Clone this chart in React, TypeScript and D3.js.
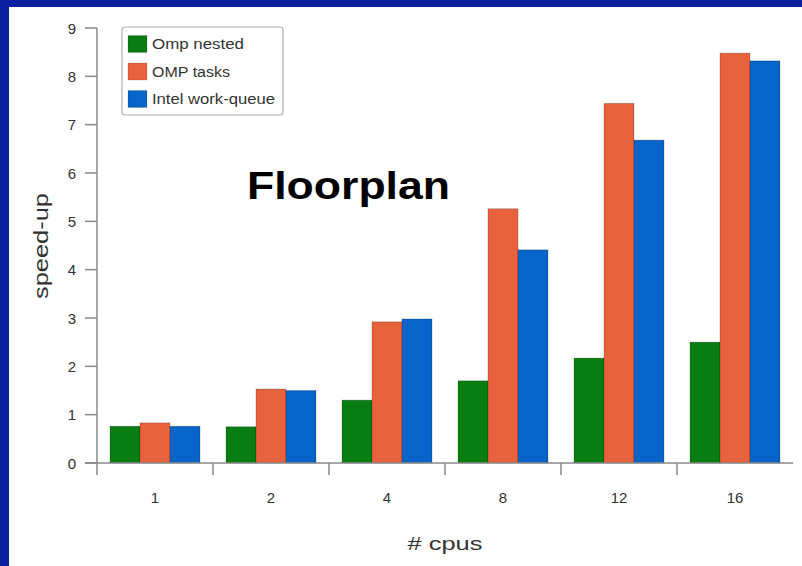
import React from "react";
import * as d3 from "d3";

const cpus = ["1", "2", "4", "8", "12", "16"];
const ompNested = [0.76, 0.75, 1.3, 1.7, 2.17, 2.5];
const ompTasks = [0.83, 1.53, 2.92, 5.26, 7.44, 8.48];
const intelWorkQueue = [0.76, 1.5, 2.98, 4.41, 6.68, 8.32];
const seriesNames = ["Omp nested", "OMP tasks", "Intel work-queue"];
const seriesColors = ["#0a7d12", "#e8623e", "#0764c8"];
const yTicks = [0, 1, 2, 3, 4, 5, 6, 7, 8, 9];

const W = 802;
const H = 566;

export default function App() {
  const series = [ompNested, ompTasks, intelWorkQueue];
  const y = d3.scaleLinear().domain([0, 9]).range([463, 28]);
  const x = d3.scaleBand<string>().domain(cpus).range([97, 793]).padding(0);
  const bw = x.bandwidth();
  const sub = d3
    .scaleBand<string>()
    .domain(seriesNames)
    .range([13, bw - 13])
    .padding(0);
  const axisColor = "#8a8a8a";
  const font = "'Liberation Sans', Arial, Helvetica, sans-serif";
  const legendTextLen = [92, 78, 123];

  return (
    <svg
      width={W}
      height={H}
      style={{ position: "absolute", left: 0, top: 0 }}
      fontFamily={font}
    >
      <rect x={0} y={0} width={W} height={H} fill="#0a209e" />
      <rect x={9} y={7} width={W - 9} height={H - 7} fill="#ffffff" />

      {/* bars */}
      {cpus.map((c, i) => (
        <g key={c} transform={`translate(${x(c)},0)`}>
          {series.map((s, j) => (
            <rect
              key={j}
              x={sub(seriesNames[j])}
              y={y(s[i])}
              width={sub.bandwidth()}
              height={y(0) - y(s[i])}
              fill={seriesColors[j]}
              stroke="rgba(0,0,0,0.25)"
              strokeWidth={0.8}
            />
          ))}
        </g>
      ))}

      {/* y axis */}
      <line x1={97} x2={97} y1={y(9)} y2={475} stroke={axisColor} strokeWidth={1.5} />
      {yTicks.map((t) => (
        <g key={t}>
          <line x1={85} x2={97} y1={y(t)} y2={y(t)} stroke={axisColor} strokeWidth={1.5} />
          <text
            x={76}
            y={y(t)}
            textAnchor="end"
            dominantBaseline="central"
            fontSize={15}
            fill="#333"
          >
            {t}
          </text>
        </g>
      ))}

      {/* x axis */}
      <line x1={85} x2={793} y1={y(0)} y2={y(0)} stroke={axisColor} strokeWidth={1.5} />
      {cpus.slice(1).map((c) => (
        <line
          key={c}
          x1={x(c)}
          x2={x(c)}
          y1={y(0)}
          y2={475}
          stroke={axisColor}
          strokeWidth={1.5}
        />
      ))}
      {cpus.map((c) => (
        <text
          key={c}
          x={(x(c) as number) + bw / 2}
          y={497}
          textAnchor="middle"
          dominantBaseline="central"
          fontSize={15}
          fill="#333"
        >
          {c}
        </text>
      ))}

      {/* axis titles */}
      <text
        x={445}
        y={550}
        textAnchor="middle"
        fontSize={19}
        fill="#333"
        textLength={75}
        lengthAdjust="spacingAndGlyphs"
      >
        # cpus
      </text>
      <text
        transform="translate(48,246) rotate(-90)"
        textAnchor="middle"
        fontSize={20}
        fill="#333"
        textLength={106}
        lengthAdjust="spacingAndGlyphs"
      >
        speed-up
      </text>

      {/* title */}
      <text
        x={247}
        y={199}
        fontSize={38}
        fontWeight="bold"
        fill="#000"
        textLength={203}
        lengthAdjust="spacingAndGlyphs"
      >
        Floorplan
      </text>

      {/* legend */}
      <rect
        x={122}
        y={27}
        width={161}
        height={88}
        rx={3}
        fill="#fff"
        stroke="#b0b0b0"
        strokeWidth={1.2}
      />
      {seriesNames.map((n, j) => (
        <g key={n} transform={`translate(0,${44 + j * 27.5})`}>
          <rect x={128} y={-8.5} width={19} height={17} fill={seriesColors[j]} stroke="rgba(0,0,0,0.2)" strokeWidth={0.6} />
          <text
            x={152}
            y={0}
            dominantBaseline="central"
            fontSize={14}
            fill="#333"
            textLength={legendTextLen[j]}
            lengthAdjust="spacingAndGlyphs"
          >
            {n}
          </text>
        </g>
      ))}
    </svg>
  );
}
